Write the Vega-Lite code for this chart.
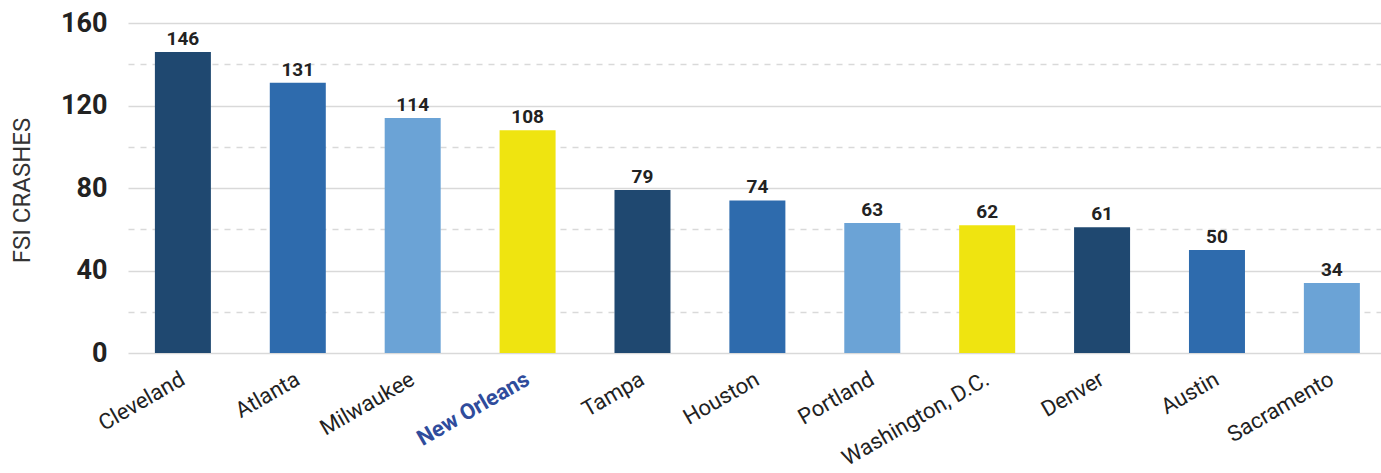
{
  "$schema": "https://vega.github.io/schema/vega-lite/v6.json",
  "width": 1253,
  "height": 330,
  "autosize": {"type": "none"},
  "padding": {"left": 128, "top": 23, "right": 0, "bottom": 120},
  "background": "white",
  "config": {"view": {"stroke": null}, "font": "Roboto"},
  "data": {"values": [
    {"city": "Cleveland", "crashes": 146, "group": "a"},
    {"city": "Atlanta", "crashes": 131, "group": "b"},
    {"city": "Milwaukee", "crashes": 114, "group": "c"},
    {"city": "New Orleans", "crashes": 108, "group": "d"},
    {"city": "Tampa", "crashes": 79, "group": "a"},
    {"city": "Houston", "crashes": 74, "group": "b"},
    {"city": "Portland", "crashes": 63, "group": "c"},
    {"city": "Washington, D.C.", "crashes": 62, "group": "d"},
    {"city": "Denver", "crashes": 61, "group": "a"},
    {"city": "Austin", "crashes": 50, "group": "b"},
    {"city": "Sacramento", "crashes": 34, "group": "c"}
  ]},
  "encoding": {
    "x": {
      "field": "city", "type": "nominal", "sort": null,
      "scale": {"paddingInner": 0.5126, "paddingOuter": 0.209, "align": 0.56},
      "axis": {
        "title": null, "domain": false, "ticks": false,
        "labelAngle": -30, "labelAlign": "right", "labelBaseline": "middle",
        "labelFontSize": 22, "labelPadding": 24,
        "labelFont": "Roboto",
        "labelFontWeight": {"condition": {"test": "datum.value === 'New Orleans'", "value": "bold"}, "value": "normal"},
        "labelColor": {"condition": {"test": "datum.value === 'New Orleans'", "value": "#2F4C9C"}, "value": "#222222"}
      }
    },
    "y": {
      "field": "crashes", "type": "quantitative",
      "scale": {"domain": [0, 160], "nice": false},
      "axis": {
        "title": "FSI CRASHES", "titleFontSize": 24, "titleFontWeight": "normal", "titleColor": "#333333",
        "titleX": -106, "titleY": 167, "titleAngle": -90, "titleAlign": "center", "titleBaseline": "middle",
        "values": [0, 20, 40, 60, 80, 100, 120, 140, 160],
        "labelExpr": "datum.value % 40 === 0 ? datum.label : ''",
        "labelFontSize": 27, "labelFontWeight": "bold", "labelColor": "#222222", "labelPadding": 21,
        "domain": false, "ticks": false,
        "grid": true, "gridColor": "#d9d9d9", "gridWidth": 1.5,
        "gridDash": {"condition": {"test": "datum.value % 40 === 20", "value": [6, 6]}, "value": []}
      }
    }
  },
  "layer": [
    {
      "mark": {"type": "bar"},
      "encoding": {
        "color": {"field": "group", "type": "nominal", "legend": null,
          "scale": {"domain": ["a", "b", "c", "d"], "range": ["#1F4870", "#2E6BAD", "#6BA3D6", "#EFE410"]}}
      }
    },
    {
      "mark": {"type": "text", "baseline": "bottom", "dy": -3, "fontSize": 19, "fontWeight": "bold", "color": "#222222"},
      "encoding": {"text": {"field": "crashes", "type": "quantitative"}}
    }
  ]
}
